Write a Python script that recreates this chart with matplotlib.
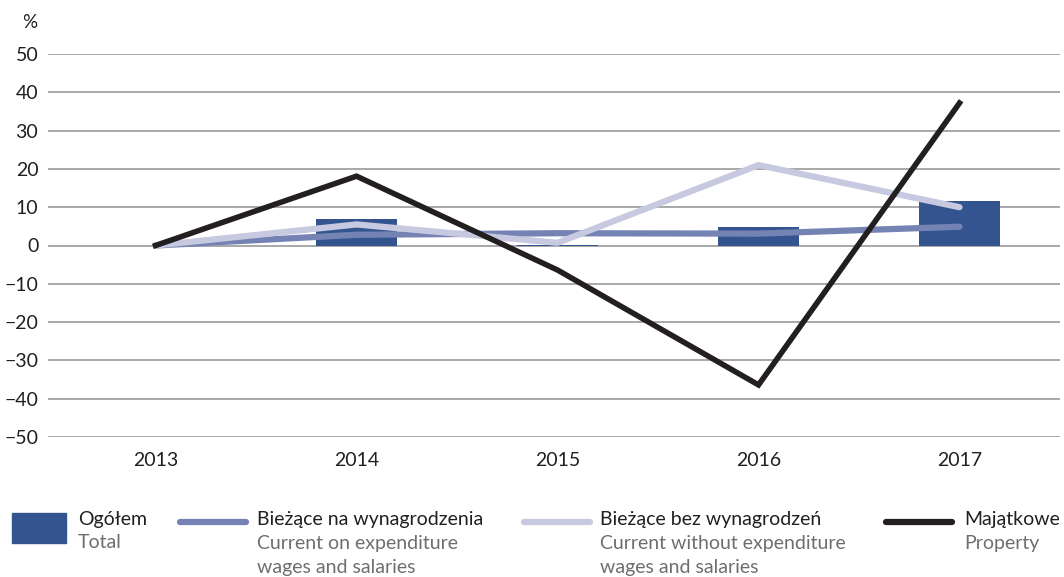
import numpy as np
import matplotlib.pyplot as plt

plt.rcParams['font.family'] = ['Lato', 'DejaVu Sans']

years = ['2013', '2014', '2015', '2016', '2017']
total = [0.0, 6.9, 0.2, 4.8, 11.6]
current_wages = [0.0, 2.8, 3.2, 3.1, 4.9]
current_other = [0.0, 5.5, 0.7, 21.0, 10.0]
property_exp = [0.0, 18.1, -6.4, -36.4, 37.2]

c_bar = '#33548f'
c_wages = '#7483b4'
c_other = '#c6c9df'
c_prop = '#231f20'
c_text = '#231f20'
c_sub = '#6d6e71'

fig = plt.figure(figsize=(10.64, 5.77), dpi=100)
ax = fig.add_axes([48 / 1064, 140 / 577, 1012 / 1064, 383 / 577])

x = np.arange(len(years))
ax.bar(x, total, width=0.4, color=c_bar, zorder=2)
ax.plot(x, current_wages, color=c_wages, lw=4.5, solid_capstyle='round', zorder=3)
ax.plot(x, current_other, color=c_other, lw=4.5, solid_capstyle='round', zorder=3)
ax.plot(x, property_exp, color=c_prop, lw=4, solid_joinstyle='miter', zorder=4)

ax.set_xlim(-0.535, 4.5)
ax.set_ylim(-50, 50)
ax.set_yticks(np.arange(-50, 51, 10))
ax.set_xticks(x)
ax.set_xticklabels(years)
ax.grid(axis='y', color='#9a9a9a', lw=1.2, zorder=0)
ax.set_axisbelow(True)
for s in ax.spines.values():
    s.set_visible(False)
ax.tick_params(length=0, labelsize=14, labelcolor=c_text)
ax.tick_params(axis='x', pad=11)
ax.tick_params(axis='y', pad=7)
fig.text(30 / 1064, 1 - 22 / 577, '%', ha='center', va='center', fontsize=13.5, color=c_text)

# legend
def fx(px):
    return px / 1064

def fy(py):
    return 1 - py / 577

fig.patches.append(plt.Rectangle((fx(12), fy(543)), 54 / 1064, 30 / 577,
                                 transform=fig.transFigure, color=c_bar))
for x0, x1, col in [(180, 246, c_wages), (524, 590, c_other), (886, 952, c_prop)]:
    fig.add_artist(plt.Line2D([fx(x0), fx(x1)], [fy(522), fy(522)], transform=fig.transFigure,
                              color=col, lw=4.5, solid_capstyle='round'))

entries = [
    (78, 'Ogółem', ['Total']),
    (257, 'Bieżące na wynagrodzenia', ['Current on expenditure', 'wages and salaries']),
    (600, 'Bieżące bez wynagrodzeń', ['Current without expenditure', 'wages and salaries']),
    (964, 'Majątkowe', ['Property']),
]
for px, title, subs in entries:
    fig.text(fx(px), fy(520), title, ha='left', va='center', fontsize=14, color=c_text)
    for i, s in enumerate(subs):
        fig.text(fx(px), fy(543 + 24 * i), s, ha='left', va='center', fontsize=14, color=c_sub)

fig.savefig('out.png', dpi=100)
